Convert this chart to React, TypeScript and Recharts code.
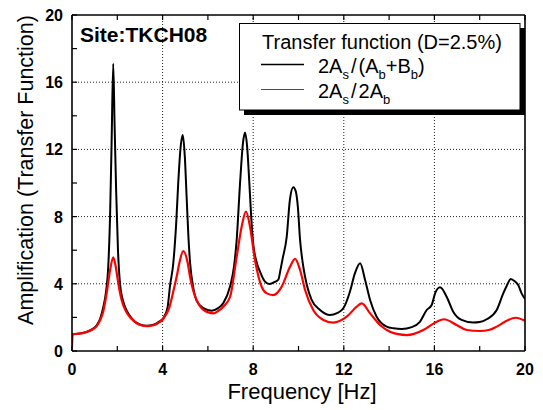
import React from 'react';
import { LineChart, Line, XAxis, YAxis, CartesianGrid } from 'recharts';

const FONT = '"Liberation Sans", Arial, Helvetica, sans-serif';

// 2As/(Ab+Bb) : frequency [Hz] and amplification
const freqOutcrop = [
  0.0, 0.3, 0.6, 0.9, 1.1, 1.25, 1.38, 1.5, 1.6, 1.68, 1.75, 1.82, 1.88, 1.95, 2.03, 2.12, 2.25, 2.4, 2.6, 2.8,
  3.0, 3.3, 3.6, 3.85, 4.05, 4.22, 4.33, 4.47, 4.6, 4.69, 4.8, 4.89, 4.98, 5.06, 5.14, 5.21, 5.35, 5.5, 5.8, 6.17,
  6.45, 6.68, 6.98, 7.15, 7.27, 7.42, 7.55, 7.64, 7.73, 7.83, 7.92, 8.0, 8.15, 8.3, 8.52, 8.71, 8.9, 9.11, 9.2, 9.3,
  9.48, 9.62, 9.77, 9.88, 9.97, 10.07, 10.18, 10.29, 10.58, 10.95, 11.39, 11.7, 11.98, 12.27, 12.49, 12.72, 12.94, 13.16, 13.45, 13.89,
  14.2, 14.56, 15.0, 15.36, 15.66, 15.88, 16.03, 16.25, 16.54, 16.83, 17.2, 17.72, 18.0, 18.31, 18.75, 19.04, 19.2, 19.37, 19.55, 19.7,
  19.85, 20.0,
];
const ampOutcrop = [
  1.0, 1.03, 1.12, 1.3, 1.55, 1.95, 2.6, 3.5, 5.0, 8.0, 12.5, 17.1, 13.5, 9.5, 6.0, 4.0, 3.0, 2.45, 2.0, 1.72,
  1.58, 1.5, 1.56, 1.75, 2.0, 2.6, 3.9, 5.2, 7.6, 10.0, 12.2, 12.86, 11.6, 9.2, 6.8, 5.3, 3.8, 3.0, 2.55, 2.4,
  2.55, 2.85, 3.85, 5.0, 6.6, 10.0, 12.4, 13.0, 12.2, 10.0, 7.8, 6.4, 5.3, 4.72, 4.13, 3.99, 4.08, 4.25, 4.8, 5.5,
  6.8, 9.0, 9.74, 9.5, 8.6, 6.6, 5.3, 4.42, 3.04, 2.44, 2.14, 2.25, 2.54, 3.53, 4.62, 5.22, 4.23, 3.04, 2.04, 1.45,
  1.35, 1.31, 1.42, 1.74, 2.44, 2.74, 3.43, 3.79, 3.23, 2.34, 1.85, 1.69, 1.72, 1.89, 2.44, 3.43, 3.9, 4.29, 4.15, 3.93,
  3.43, 3.1,
];

// 2As/2Ab : frequency [Hz] and amplification
const freqBase = [
  0.0, 0.03, 0.3, 0.6, 0.9, 1.1, 1.24, 1.38, 1.53, 1.68, 1.82, 1.92, 2.0, 2.1, 2.19, 2.35, 2.49, 2.7, 2.86, 3.05,
  3.3, 3.6, 3.85, 4.05, 4.3, 4.5, 4.62, 4.75, 4.91, 5.1, 5.21, 5.35, 5.5, 5.8, 6.24, 6.45, 6.68, 6.98, 7.27, 7.49,
  7.68, 7.86, 8.08, 8.37, 8.6, 8.89, 9.26, 9.62, 9.85, 10.07, 10.29, 10.65, 11.1, 11.54, 12.13, 12.57, 12.79, 13.16, 13.6, 14.04,
  14.4, 14.78, 15.1, 15.51, 16.1, 16.42, 16.98, 17.43, 18.01, 18.4, 18.75, 19.19, 19.59, 20.0,
];
const ampBase = [
  0.25, 1.0, 1.03, 1.11, 1.28, 1.5, 1.82, 2.35, 3.43, 4.8, 5.58, 5.1, 4.42, 3.6, 3.04, 2.45, 2.14, 1.82, 1.65, 1.53,
  1.48, 1.53, 1.7, 1.95, 2.6, 3.7, 4.42, 5.3, 5.95, 5.3, 4.42, 3.6, 3.04, 2.45, 2.24, 2.38, 2.64, 3.23, 5.6, 7.4,
  8.3, 7.4, 5.4, 3.83, 3.43, 3.33, 3.83, 5.0, 5.48, 4.82, 3.63, 2.44, 1.85, 1.69, 2.04, 2.64, 2.84, 2.24, 1.55, 1.15,
  1.0, 0.95, 1.02, 1.25, 1.74, 1.89, 1.55, 1.25, 1.19, 1.25, 1.45, 1.8, 1.98, 1.8,
];

const axisTicks = [0, 2, 4, 6, 8, 10, 12, 14, 16, 18, 20];
const gridValues = [4, 8, 12, 16];

const outcropData = freqOutcrop.map((f, i) => ({ f, amp: ampOutcrop[i] }));
const baseData = freqBase.map((f, i) => ({ f, amp: ampBase[i] }));

const TICK_LEN = 5;
const labelStyle = { fontFamily: FONT, fontSize: 16, fontWeight: 'bold' as const, fill: '#000' };

// ticks point into the plot; only every second one carries a number
function BottomTick({ x, y, payload }: any) {
  const v = payload.value;
  return (
    <g>
      <line x1={x} y1={y} x2={x} y2={y - TICK_LEN} stroke="#000" strokeWidth={1.2} />
      {v % 4 === 0 && <text x={x} y={y + 24} textAnchor="middle" {...labelStyle}>{v}</text>}
    </g>
  );
}

function TopTick({ x, y }: any) {
  return <line x1={x} y1={y} x2={x} y2={y + TICK_LEN} stroke="#000" strokeWidth={1.2} />;
}

function LeftTick({ x, y, payload }: any) {
  const v = payload.value;
  return (
    <g>
      <line x1={x} y1={y} x2={x + TICK_LEN} y2={y} stroke="#000" strokeWidth={1.2} />
      {v % 4 === 0 && <text x={x - 9} y={y + 6} textAnchor="end" {...labelStyle}>{v}</text>}
    </g>
  );
}

function RightTick({ x, y }: any) {
  return <line x1={x} y1={y} x2={x - TICK_LEN} y2={y} stroke="#000" strokeWidth={1.2} />;
}

const frame = { stroke: '#000', strokeWidth: 1.6 };

export default function App() {
  return (
    <div style={{ position: 'absolute', left: 0, top: 0, width: 543, height: 410, background: '#fff' }}>
      <LineChart width={543} height={410} data={outcropData} margin={{ top: 10, right: 13, bottom: 29, left: 32 }}>
        <CartesianGrid
          stroke="#222"
          strokeDasharray="1 2"
          horizontalValues={gridValues}
          verticalValues={gridValues}
        />
        <XAxis
          dataKey="f"
          type="number"
          domain={[0, 20]}
          ticks={axisTicks}
          interval={0}
          height={30}
          tickSize={0}
          tickMargin={0}
          axisLine={frame}
          tickLine={false}
          tick={<BottomTick />}
          allowDataOverflow
        />
        <XAxis
          xAxisId="top"
          orientation="top"
          dataKey="f"
          type="number"
          domain={[0, 20]}
          ticks={axisTicks}
          interval={0}
          height={5}
          tickSize={0}
          tickMargin={0}
          axisLine={frame}
          tickLine={false}
          tick={<TopTick />}
        />
        <YAxis
          type="number"
          domain={[0, 20]}
          ticks={axisTicks}
          interval={0}
          width={40}
          tickSize={0}
          tickMargin={0}
          axisLine={frame}
          tickLine={false}
          tick={<LeftTick />}
          allowDataOverflow
        />
        <YAxis
          yAxisId="right"
          orientation="right"
          type="number"
          domain={[0, 20]}
          ticks={axisTicks}
          interval={0}
          width={5}
          tickSize={0}
          tickMargin={0}
          axisLine={frame}
          tickLine={false}
          tick={<RightTick />}
        />
        <Line
          data={outcropData}
          dataKey="amp"
          type="monotone"
          stroke="#000"
          strokeWidth={2}
          dot={false}
          activeDot={false}
          isAnimationActive={false}
        />
        <Line
          data={baseData}
          dataKey="amp"
          type="monotone"
          stroke="#ff0000"
          strokeWidth={2.2}
          dot={false}
          activeDot={false}
          isAnimationActive={false}
        />
      </LineChart>

      <svg
        width={543}
        height={410}
        style={{ position: 'absolute', left: 0, top: 0, pointerEvents: 'none' }}
        fontFamily={FONT}
      >
        <text x={80} y={42} fontSize={21} fontWeight="bold">Site:TKCH08</text>

        {/* legend box with drop shadow */}
        <rect x={244} y={28} width={281} height={87} fill="#000" />
        <rect x={239.5} y={23.5} width={280.5} height={86.5} fill="#fff" stroke="#000" strokeWidth={1} />
        <text x={262} y={48.5} fontSize={20}>Transfer function (D=2.5%)</text>
        <line x1={261} y1={64.5} x2={304} y2={64.5} stroke="#000" strokeWidth={1.3} />
        <text x={318} y={72.5} fontSize={20}>
          2A<tspan fontSize={13} dy={6}>s</tspan>
          <tspan dy={-6} dx={2}>/</tspan>
          <tspan dx={2}>(A</tspan>
          <tspan fontSize={13} dy={6}>b</tspan>
          <tspan dy={-6}>+B</tspan>
          <tspan fontSize={13} dy={6}>b</tspan>
          <tspan dy={-6}>)</tspan>
        </text>
        <line x1={261} y1={89.5} x2={304} y2={89.5} stroke="#ff0000" strokeWidth={1.1} />
        <text x={318} y={98} fontSize={20}>
          2A<tspan fontSize={13} dy={6}>s</tspan>
          <tspan dy={-6} dx={2}>/</tspan>
          <tspan dx={2}>2A</tspan>
          <tspan fontSize={13} dy={6}>b</tspan>
        </text>

        <text x={302} y={399} fontSize={22} textAnchor="middle">Frequency [Hz]</text>
        <text x={33} y={170} fontSize={21.5} textAnchor="middle" transform="rotate(-90 33 170)">
          Amplification (Transfer Function)
        </text>
      </svg>
    </div>
  );
}
